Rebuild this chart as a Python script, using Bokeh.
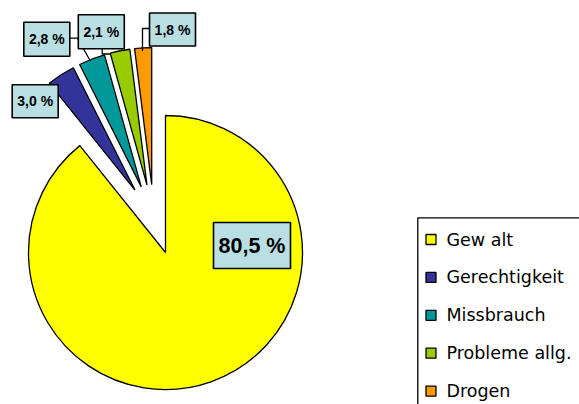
import math
from bokeh.plotting import figure
from bokeh.models import Range1d, ColumnDataSource
from bokeh.core.properties import value
from bokeh.embed import file_html
from bokeh.resources import INLINE

# ---- data ----
categories = ["Gew alt", "Gerechtigkeit", "Missbrauch", "Probleme allg.", "Drogen"]
values = [80.5, 3.0, 2.8, 2.1, 1.8]
colors = ["#FFFF00", "#333399", "#009999", "#99CC00", "#FF9900"]
label_texts = ["{:.1f} %".format(v).replace(".", ",") for v in values]

W, H = 579, 404
def sy(y):  # screen y -> data y
    return H - y

# ---- layout (screen px) ----
cx, cy = 153.4, sy(219.0)
radius = 137.0
explode = 35.0

total = sum(values)
starts, ends, xs, ys = [], [], [], []
acc = 0.0
for v in values:
    phi0 = acc / total * 2 * math.pi
    acc += v
    phi1 = acc / total * 2 * math.pi
    mid = (phi0 + phi1) / 2
    starts.append(math.pi / 2 - phi1)
    ends.append(math.pi / 2 - phi0)
    xs.append(cx + explode * math.sin(mid))
    ys.append(cy + explode * math.cos(mid))

src = ColumnDataSource(dict(x=xs, y=ys, start=starts, end=ends, color=colors))

p = figure(width=W, height=H, output_backend="svg", toolbar_location=None,
           x_range=Range1d(0, W), y_range=Range1d(0, H),
           x_axis_type=None, y_axis_type=None, min_border=0)
p.grid.visible = False
p.outline_line_color = None
p.background_fill_color = "white"

p.wedge(x="x", y="y", radius=radius, start_angle="start", end_angle="end",
        fill_color="color", line_color="black", line_width=1.3, source=src)

# leader lines
leaders = [
    ([69.3, 77.0, 90.0], [37.7, 37.7, 60.7]),
    ([101.7, 101.7, 110.0], [48.3, 53.5, 53.5]),
    ([149.0, 142.0, 142.0], [28.0, 28.0, 50.5]),
]
for lx, ly in leaders:
    p.line(lx, [sy(v) for v in ly], line_color="black", line_width=1.3)

# label boxes (center x, center y, w, h, font size)
boxes = [
    (251.5, 245.0, 77, 46, "21.5px"),
    (34.7, 100.7, 46, 33, "14px"),
    (46.3, 38.7, 46, 34, "14px"),
    (100.8, 31.2, 46, 34, "14px"),
    (172.0, 29.0, 46, 33, "14px"),
]
for (bx, by, bw, bh, fs), t in zip(boxes, label_texts):
    p.quad(left=bx - bw / 2, right=bx + bw / 2, top=sy(by - bh / 2), bottom=sy(by + bh / 2),
           fill_color="#B9DFE2", line_color="black", line_width=1.6)
    p.text(x=[bx], y=[sy(by)], text=[t], text_align="center", text_baseline="middle",
           text_font=value("Liberation Sans"), text_font_style="bold",
           text_font_size=fs, text_color="black")

# legend
p.line([W + 5, 417.3, 417.3], [sy(217.3), sy(217.3), -5], line_color="black", line_width=1.3)
row_y = [239.0, 276.9, 314.8, 352.7, 390.6]
p.scatter(x=[430.5] * 5, y=[sy(v) for v in row_y], marker="square", size=10,
          fill_color=colors, line_color="black", line_width=1.3)
p.text(x=[446.0] * 5, y=[sy(v) for v in row_y], text=categories,
       text_align="left", text_baseline="middle",
       text_font=value("DejaVu Sans"), text_font_size="17.5px", text_color="black")

open("out.html", "w").write(file_html(p, INLINE))
